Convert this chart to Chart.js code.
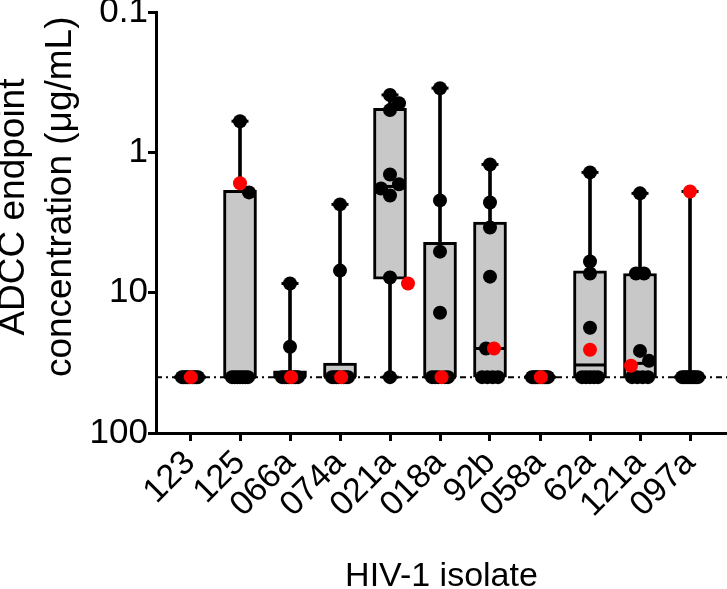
<!DOCTYPE html>
<html><head><meta charset="utf-8">
<script src="https://cdn.jsdelivr.net/npm/chart.js@4"></script>
<style>html,body{margin:0;padding:0;background:#fff;}</style>
</head><body>
<canvas id="c" width="727" height="589" style="display:block;width:727px;height:589px"></canvas>
<script>
// ---------------- data ----------------
const isolates = ['123','125','066a','074a','021a','018a','92b','058a','62a','121a','097a'];
const blackValues = [
  [40,40,40,40,40,40,40,40,40],
  [0.6,1.93,40,40,40,40,40,40,40],
  [8.6,24.3,40,40,40,40,40,40,40],
  [2.35,6.96,40,40,40,40,40,40,40],
  [0.39,0.447,0.5,1.44,1.69,1.81,2.03,7.8,40],
  [0.349,2.2,5.1,13.9,40,40,40,40,40],
  [1.22,2.28,3.43,7.69,25,40,40,40,40],
  [40,40,40,40,40,40,40,40,40],
  [1.39,6.0,7.3,17.8,40,40,40,40,40],
  [1.96,7.3,7.3,26,30.6,40,40,40,40],
  [40,40,40,40,40,40,40,40,40]
];
const redValues = [40,1.66,40,40,8.6,40,25,40,25.5,33.2,1.9];
const detectionLimit = 40;
const yTickValues = [0.1,1,10,100];
const yTickLabels = ['0.1','1','10','100'];
const yTitle = ['   ADCC endpoint','     concentration (\u03bcg/mL)'];
const xTitle = 'HIV-1 isolate';

// ---------------- statistics (Prism-style percentiles) ----------------
function percentile(sorted, p){
  const n = sorted.length, pos = p*(n+1);
  if (pos <= 1) return sorted[0];
  if (pos >= n) return sorted[n-1];
  const lo = Math.floor(pos), f = pos - lo;
  return sorted[lo-1] + f*(sorted[lo]-sorted[lo-1]);
}
const stats = isolates.map((_, i) => {
  const s = blackValues[i].concat([redValues[i]]).sort((a,b)=>a-b);
  return {min:s[0], max:s[s.length-1], q1:percentile(s,0.25), med:percentile(s,0.5), q3:percentile(s,0.75)};
});

// ---------------- simple beeswarm for point spreading ----------------
const PX_X = 50, PX_DEC = 140, STEP = 9, MINDIST = 11;
function swarm(i){
  const pts = blackValues[i].map(v => ({v, red:false})).concat([{v:redValues[i], red:true}]);
  const placed = [];
  const groups = {};
  pts.forEach(p => { (groups[p.v] = groups[p.v] || []).push(p); });
  Object.keys(groups).forEach(k => {
    const g = groups[k];
    if (g.length < 2) return;
    const blacks = g.filter(p => !p.red), reds = g.filter(p => p.red);
    const ordered = blacks.slice();
    reds.forEach(r => ordered.splice(Math.ceil(ordered.length/2), 0, r));
    const half = Math.min(8, (g.length-1)*4);
    ordered.forEach((p, j) => {
      p.dx = -half + 2*half*j/(g.length-1);
      p.py = PX_DEC*Math.log10(p.v);
      placed.push(p);
    });
  });
  const singles = pts.filter(p => groups[p.v].length === 1).sort((a,b)=>a.v-b.v);
  singles.forEach(p => {
    p.py = PX_DEC*Math.log10(p.v);
    const cands = [0, STEP, -STEP, 2*STEP, -2*STEP, 3*STEP, -3*STEP];
    for (const c of cands){
      if (placed.every(q => Math.hypot(q.dx - c, q.py - p.py) >= MINDIST)){ p.dx = c; break; }
    }
    if (p.dx === undefined) p.dx = 0;
    placed.push(p);
  });
  return pts.map(p => ({x: i + p.dx/PX_X, y: p.v, red: p.red}));
}
const allPts = isolates.map((_, i) => swarm(i));
const blackPts = [], redPts = [];
allPts.forEach(arr => arr.forEach(p => (p.red ? redPts : blackPts).push({x:p.x, y:p.y})));

const X_MIN = -0.68, X_MAX = 10.74;

Chart.defaults.font.family = "'Liberation Sans', Arial, sans-serif";
Chart.defaults.color = '#000';

new Chart(document.getElementById('c'), {
  type: 'scatter',
  data: {
    datasets: [
      {type:'scatter', data: redPts, backgroundColor:'#ff0000', borderWidth:0, pointRadius:7, order:0},
      {type:'scatter', data: blackPts, backgroundColor:'#000', borderWidth:0, pointRadius:7, order:1},
      {type:'scatter', data: stats.flatMap((s,i)=>[{x:i,y:s.min},{x:i,y:s.max}]),
        pointStyle:'line', pointRadius:8.5, borderColor:'#000', pointBorderWidth:3, order:2},
      {type:'scatter', data: stats.map((s,i)=>({x:i,y:s.med})),
        pointStyle:'line', pointRadius:16, borderColor:'#000', pointBorderWidth:3, order:2},
      {type:'bar', data: stats.map((s,i)=>({x:i,y:[s.q1,s.q3]})), barThickness:33, grouped:false,
        backgroundColor:'#c8c8c8', borderColor:'#000', borderWidth:3, borderSkipped:false, order:3},
      {type:'bar', data: stats.map((s,i)=>({x:i,y:[s.min,s.max]})), barThickness:3, grouped:false,
        backgroundColor:'#000', borderWidth:0, order:4},
      {type:'line', data:[{x:X_MIN,y:detectionLimit},{x:X_MAX,y:detectionLimit}], borderColor:'#000',
        borderWidth:2, borderDash:[6,4,2,4], pointRadius:0, order:5}
    ]
  },
  options: {
    responsive:false, animation:false, events:[],
    layout:{autoPadding:false, padding:{top:12,left:0,right:0,bottom:0}},
    plugins:{legend:{display:false}, tooltip:{enabled:false}},
    scales:{
      x:{
        type:'linear', min:X_MIN, max:X_MAX, offset:false,
        afterBuildTicks: s => { s.ticks = isolates.map((_, i) => ({value:i})); },
        afterFit: s => { s.height = 156; s.paddingLeft = 0; s.paddingRight = 0; s.paddingTop = 0; s.paddingBottom = 0; },
        ticks:{callback: v => isolates[v], autoSkip:false, minRotation:45, maxRotation:45,
               font:{size:34}, color:'#000', padding:2},
        grid:{drawOnChartArea:false, drawTicks:true, tickLength:8, tickWidth:3, tickColor:'#000', offset:false},
        border:{color:'#000', width:3},
        title:{display:true, text:xTitle, font:{size:34}, color:'#000', padding:{top:0,bottom:-8}}
      },
      y:{
        type:'logarithmic', reverse:true, min:0.1, max:100,
        afterBuildTicks: s => { s.ticks = yTickValues.map(v => ({value:v})); },
        afterFit: s => { s.width = 156; s.paddingTop = 0; s.paddingBottom = 0; s.paddingLeft = 0; s.paddingRight = 0; },
        ticks:{callback: (v, idx) => yTickLabels[idx], font:{size:35, lineHeight:0.7}, color:'#000', padding:0},
        grid:{drawOnChartArea:false, drawTicks:true, tickLength:8, tickWidth:3, tickColor:'#000'},
        border:{color:'#000', width:3},
        title:{display:true, text:yTitle, font:{size:37, lineHeight:1.25}, color:'#000', padding:{top:-9,bottom:0}}
      }
    }
  }
});
</script>
</body></html>
